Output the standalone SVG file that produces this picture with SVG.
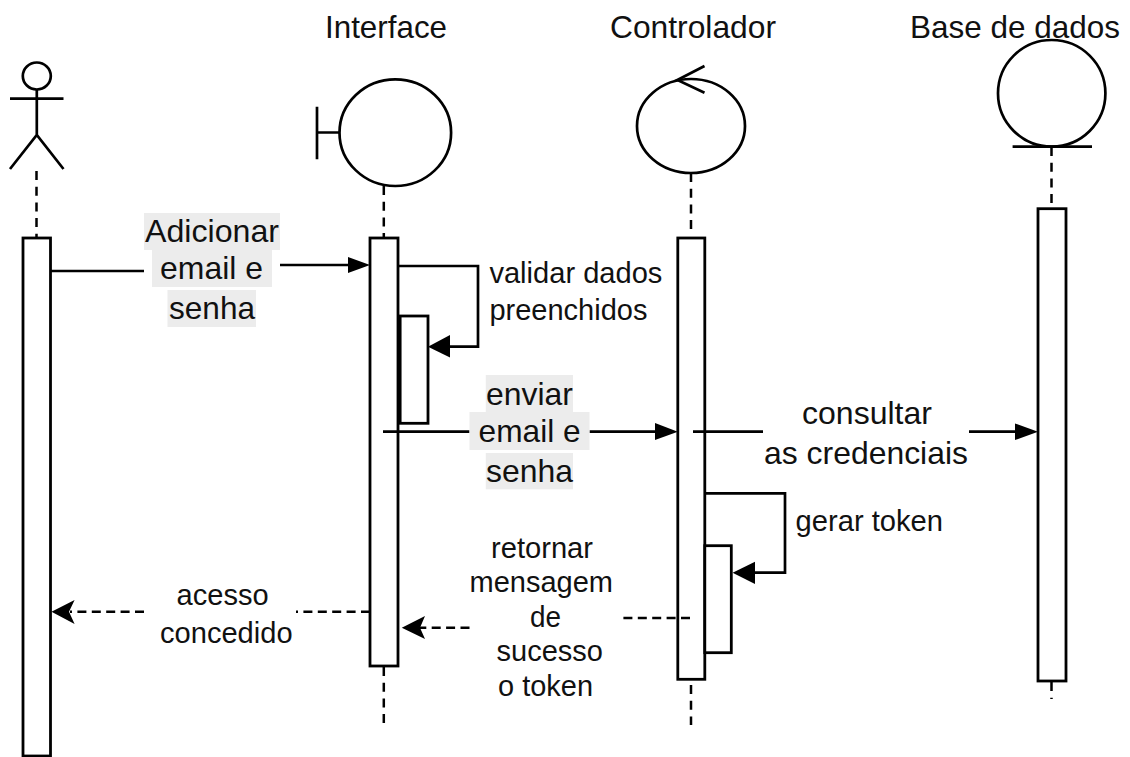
<svg xmlns="http://www.w3.org/2000/svg" width="1130" height="757" viewBox="0 0 1130 757">
<style>
.s{fill:none;stroke:#000;stroke-width:2.7}
.b{fill:#fff;stroke:#000;stroke-width:2.8}
.d{fill:none;stroke:#000;stroke-width:2.5;stroke-dasharray:9 5.4}
.v{fill:none;stroke:#000;stroke-width:2.5;stroke-dasharray:9 6.7}
.a{fill:#000;stroke:none}
.g{fill:#ececec;stroke:none}
text{font-family:"Liberation Sans",Arial,sans-serif;fill:#111}
.t{font-size:32px}
.m{font-size:29px}
</style>
<rect width="1130" height="757" fill="#fff"/>
<g id="lifelines">
<path class="v" d="M36.5 171V237"/>
<path class="v" d="M383.8 186V237M383.8 667V723"/>
<path class="v" d="M691 173V229M691 685V725"/>
<path class="v" d="M1051.5 147V205M1051.5 682V699"/>
</g>
<g id="actor">
<ellipse class="s" cx="36.8" cy="76" rx="14" ry="13.5"/>
<path class="s" d="M10 98.7H63.5M36.8 89.5V135M10 169L36.8 135L63.5 169"/>
<rect class="b" x="23" y="238" width="27.5" height="518"/>
</g>
<g id="interface">
<ellipse class="s" cx="395.3" cy="132.7" rx="55.8" ry="53.3"/>
<path class="s" d="M317 106.7V159.3M317 132.5H339.5"/>
<text class="t" x="325" y="37.5" textLength="122" lengthAdjust="spacingAndGlyphs">Interface</text>
<rect class="b" x="370" y="238" width="28" height="428"/>
<rect class="b" x="400" y="316" width="28" height="107.3"/>
<path d="M399.5 316V423.3" stroke="#000" stroke-width="3.5"/>
</g>
<g id="controlador">
<ellipse class="s" cx="691" cy="126" rx="54" ry="47"/>
<path class="s" d="M704.5 66L677.4 80L704.5 92.7"/>
<text class="t" x="610" y="37.5" textLength="166" lengthAdjust="spacingAndGlyphs">Controlador</text>
<rect class="b" x="677.8" y="238" width="27" height="441.3"/>
<rect class="b" x="704.8" y="545.7" width="26.5" height="107"/>
</g>
<g id="base-de-dados">
<ellipse class="s" cx="1051.7" cy="93.3" rx="53.7" ry="53.3"/>
<path class="s" d="M1012.6 146.7H1092"/>
<text class="t" x="910" y="37.5" textLength="210" lengthAdjust="spacingAndGlyphs">Base de dados</text>
<rect class="b" x="1038" y="208.7" width="28" height="472.3"/>
</g>
<g id="connectors">
<path class="s" d="M50.5 271H144M280 265H350"/>
<polygon class="a" points="370,265 348,257 348,273"/>
<path class="s" d="M398 266H478V346.7H448"/>
<polygon class="a" points="428,346.7 450,335 450,357.5"/>
<path class="s" d="M383 431.7H469.5M589.5 431.7H657"/>
<polygon class="a" points="677.8,431.7 655,423 655,440"/>
<path class="s" d="M693 431.7H763M969 431.7H1017"/>
<polygon class="a" points="1038,431.7 1015,423.5 1015,440"/>
<path class="s" d="M705 493.3H785V572.7H753"/>
<polygon class="a" points="732.6,572.7 755,561.7 755,584"/>
<path class="d" d="M690 618H622"/>
<path class="d" d="M469.5 627.7H420"/>
<polygon class="a" points="401.8,627.7 425,616 420,627.7 425,639"/>
<path class="d" d="M370 611.7H296M144 611.7H70"/>
<polygon class="a" points="51.5,611.7 74.6,600 69,611.7 74.6,624"/>
</g>
<g id="labels">
<rect class="g" x="144" y="213" width="136" height="37"/>
<rect class="g" x="152" y="250" width="120" height="37"/>
<rect class="g" x="167.5" y="290" width="88.5" height="37"/>
<text class="t" x="145" y="242" textLength="134" lengthAdjust="spacingAndGlyphs">Adicionar</text>
<text class="t" x="160" y="279" textLength="103" lengthAdjust="spacingAndGlyphs">email e</text>
<text class="t" x="169" y="319" textLength="86" lengthAdjust="spacingAndGlyphs">senha</text>
<text class="m" x="489.4" y="283" textLength="173" lengthAdjust="spacingAndGlyphs">validar dados</text>
<text class="m" x="489.4" y="320" textLength="158" lengthAdjust="spacingAndGlyphs">preenchidos</text>
<rect class="g" x="485.8" y="375" width="87.2" height="37"/>
<rect class="g" x="469.5" y="412" width="120" height="38"/>
<rect class="g" x="485.8" y="453" width="87.2" height="36.3"/>
<text class="t" x="486" y="405" textLength="87" lengthAdjust="spacingAndGlyphs">enviar</text>
<text class="t" x="478.6" y="442" textLength="102" lengthAdjust="spacingAndGlyphs">email e</text>
<text class="t" x="486" y="482" textLength="87" lengthAdjust="spacingAndGlyphs">senha</text>
<text class="t" x="802" y="424" textLength="130" lengthAdjust="spacingAndGlyphs">consultar</text>
<text class="t" x="764" y="464" textLength="204" lengthAdjust="spacingAndGlyphs">as credenciais</text>
<text class="m" x="795.6" y="531" textLength="147.4" lengthAdjust="spacingAndGlyphs">gerar token</text>
<text class="m" x="491" y="558" textLength="102" lengthAdjust="spacingAndGlyphs">retornar</text>
<text class="m" x="469.5" y="592" textLength="143.5" lengthAdjust="spacingAndGlyphs">mensagem</text>
<text class="m" x="530" y="627" textLength="31" lengthAdjust="spacingAndGlyphs">de</text>
<text class="m" x="496.6" y="661" textLength="106.4" lengthAdjust="spacingAndGlyphs">sucesso</text>
<text class="m" x="498" y="696" textLength="95" lengthAdjust="spacingAndGlyphs">o token</text>
<text class="m" x="176.6" y="605" textLength="92" lengthAdjust="spacingAndGlyphs">acesso</text>
<text class="m" x="160" y="643" textLength="132.6" lengthAdjust="spacingAndGlyphs">concedido</text>
</g>
</svg>
